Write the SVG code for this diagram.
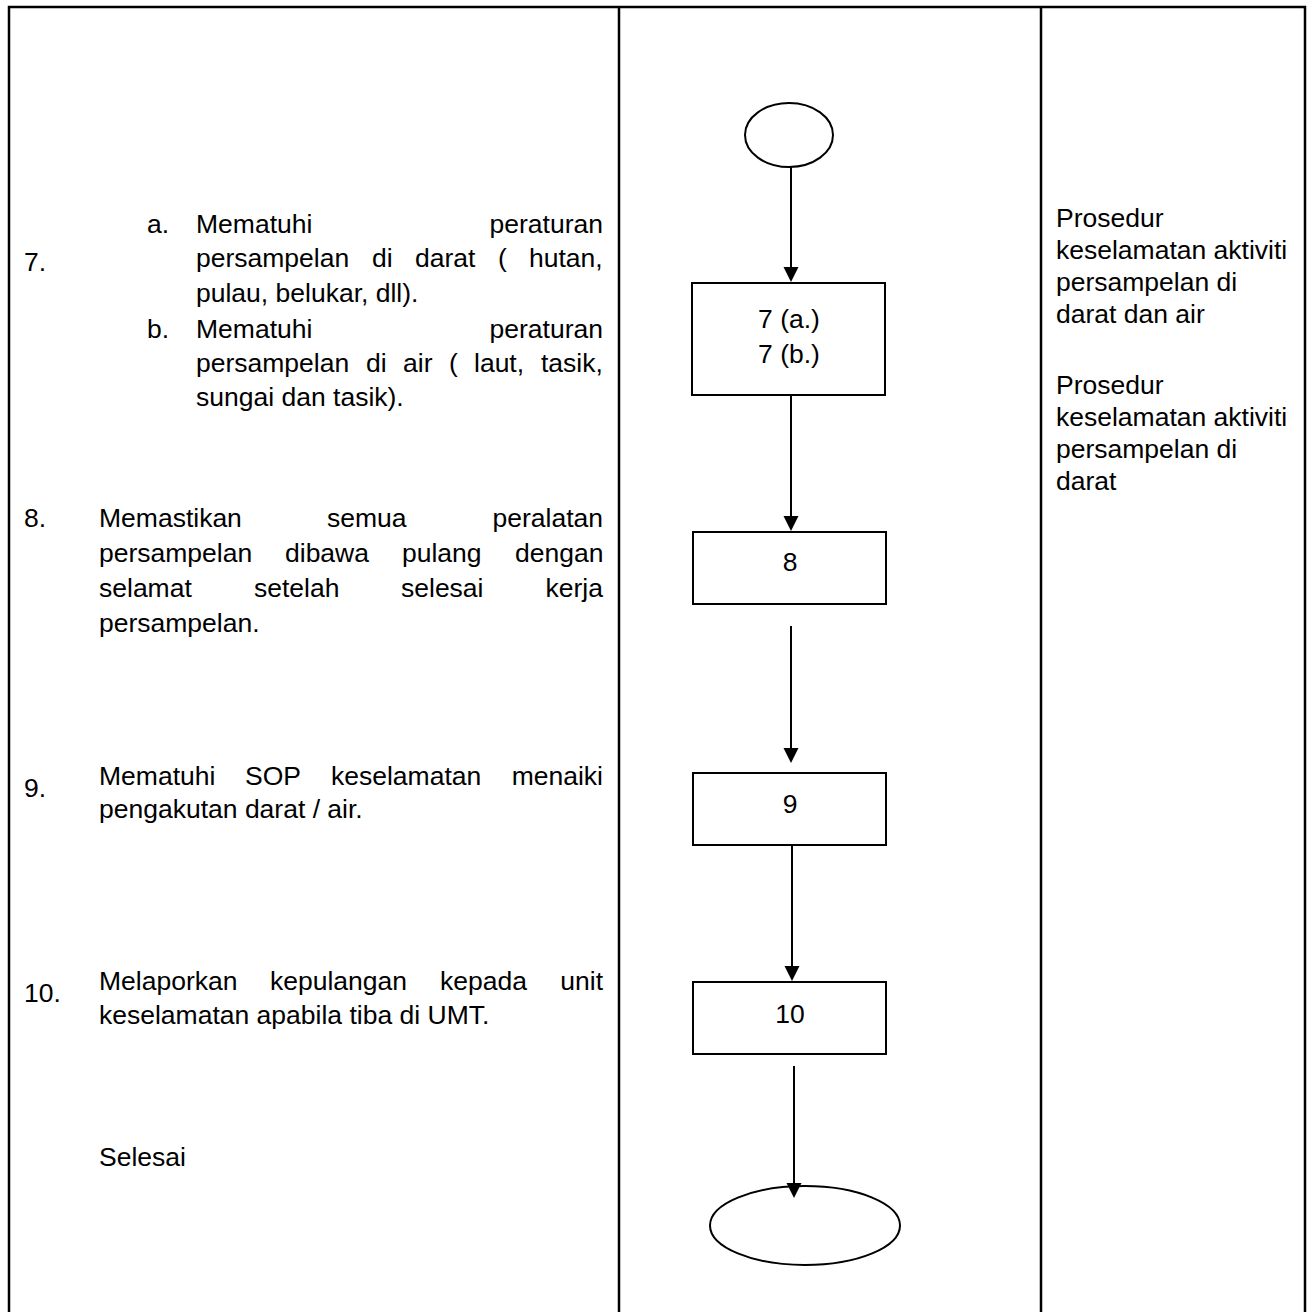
<svg xmlns="http://www.w3.org/2000/svg" width="1311" height="1312" viewBox="0 0 1311 1312">
<style>
text{font-family:"Liberation Sans",Arial,sans-serif;font-size:26.5px;fill:#000}
.tbl{stroke:#000;stroke-width:2.5;fill:none}
.box{stroke:#000;stroke-width:2;fill:#fff}
.con{stroke:#000;stroke-width:2;fill:none}
.mid{text-anchor:middle}
.end{text-anchor:end}
</style>
<defs>
<marker id="ah" markerUnits="userSpaceOnUse" markerWidth="16" markerHeight="16" refX="12" refY="7.5" orient="auto">
<path d="M0,0 L15,7.5 L0,15 z" fill="#000"/>
</marker>
</defs>
<rect width="1311" height="1312" fill="#fff"/>
<g id="table">
<path class="tbl" d="M9,1312 V7 H1305 V1312 M619,7 V1312 M1041,7 V1312"/>
</g>
<g id="steps">
<g id="step7">
<text x="24" y="271">7.</text>
<text x="147" y="233">a.</text>
<text x="196" y="233">Mematuhi</text>
<text class="end" x="603" y="233">peraturan</text>
<text y="267"><tspan x="196">persampelan</tspan><tspan x="372">di</tspan><tspan x="415">darat</tspan><tspan x="498">(</tspan><tspan x="529">hutan,</tspan></text>
<text x="196" y="302">pulau, belukar, dll).</text>
<text x="147" y="338">b.</text>
<text x="196" y="338">Mematuhi</text>
<text class="end" x="603" y="338">peraturan</text>
<text y="372"><tspan x="196">persampelan</tspan><tspan x="366">di</tspan><tspan x="403">air</tspan><tspan x="449">(</tspan><tspan x="474">laut,</tspan><tspan x="541">tasik,</tspan></text>
<text x="196" y="406">sungai dan tasik).</text>
</g>
<g id="step8">
<text x="24" y="527">8.</text>
<text y="527"><tspan x="99">Memastikan</tspan><tspan x="327">semua</tspan></text>
<text class="end" x="603" y="527">peralatan</text>
<text y="562"><tspan x="99">persampelan</tspan><tspan x="285">dibawa</tspan><tspan x="402">pulang</tspan><tspan x="515">dengan</tspan></text>
<text y="597"><tspan x="99">selamat</tspan><tspan x="254">setelah</tspan><tspan x="401">selesai</tspan></text>
<text class="end" x="603" y="597">kerja</text>
<text x="99" y="632">persampelan.</text>
</g>
<g id="step9">
<text x="24" y="797">9.</text>
<text y="785"><tspan x="99">Mematuhi</tspan><tspan x="245">SOP</tspan><tspan x="331">keselamatan</tspan></text>
<text class="end" x="603" y="785">menaiki</text>
<text x="99" y="818">pengakutan darat / air.</text>
</g>
<g id="step10">
<text x="24" y="1002">10.</text>
<text y="990"><tspan x="99">Melaporkan</tspan><tspan x="270">kepulangan</tspan><tspan x="440">kepada</tspan></text>
<text class="end" x="603" y="990">unit</text>
<text x="99" y="1024">keselamatan apabila tiba di UMT.</text>
</g>
<g id="selesai">
<text x="99" y="1166">Selesai</text>
</g>
</g>
<g id="connectors">
<line class="con" x1="791" y1="167" x2="791" y2="279" marker-end="url(#ah)"/>
<line class="con" x1="791" y1="396" x2="791" y2="528" marker-end="url(#ah)"/>
<line class="con" x1="791" y1="626" x2="791" y2="760" marker-end="url(#ah)"/>
<line class="con" x1="792" y1="845" x2="792" y2="978" marker-end="url(#ah)"/>
<line class="con" x1="794" y1="1066" x2="794" y2="1195" marker-end="url(#ah)"/>
</g>
<g id="start">
<ellipse class="box" cx="789" cy="135" rx="44" ry="32"/>
</g>
<g id="box7">
<rect class="box" x="692" y="283" width="193" height="112"/>
<text class="mid" x="789" y="328">7 (a.)</text>
<text class="mid" x="789" y="363">7 (b.)</text>
</g>
<g id="box8">
<rect class="box" x="693" y="532" width="193" height="72"/>
<text class="mid" x="790" y="571">8</text>
</g>
<g id="box9">
<rect class="box" x="693" y="773" width="193" height="72"/>
<text class="mid" x="790" y="813">9</text>
</g>
<g id="box10">
<rect class="box" x="693" y="982" width="193" height="72"/>
<text class="mid" x="790" y="1023">10</text>
</g>
<g id="end">
<ellipse cx="805" cy="1225.5" rx="95" ry="39.5" style="fill:none;stroke:#000;stroke-width:2"/>
</g>
<g id="notes">
<text x="1056" y="227">Prosedur</text>
<text x="1056" y="259">keselamatan aktiviti</text>
<text x="1056" y="291">persampelan di</text>
<text x="1056" y="323">darat dan air</text>
<text x="1056" y="394">Prosedur</text>
<text x="1056" y="426">keselamatan aktiviti</text>
<text x="1056" y="458">persampelan di</text>
<text x="1056" y="490">darat</text>
</g>
</svg>
